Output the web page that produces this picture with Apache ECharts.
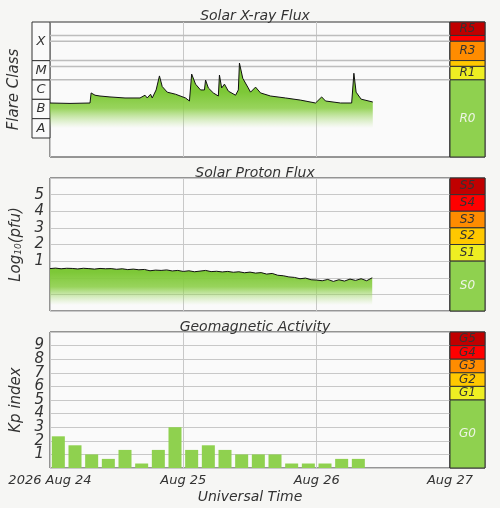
<!DOCTYPE html>
<html><head><meta charset="utf-8">
<script src="https://cdn.jsdelivr.net/npm/echarts@6/dist/echarts.min.js"></script>
<style>html,body{margin:0;padding:0;background:#f6f6f4}#c{width:500px;height:508px}</style>
</head><body><div id="c"></div>
<script>
// hours since 2026-08-24 00:00 UT
const xrayHours = [0,3.6,7.2,7.4,8.1,9.0,10.8,13.5,16.2,17.1,17.5,18.1,18.4,19.1,19.7,20.2,21.1,22.6,24.4,25.1,25.5,26.2,27.1,27.8,28.0,28.5,29.4,30.3,30.5,30.9,31.4,32.1,33.4,33.9,34.1,34.7,35.6,36.1,37.0,37.9,39.7,42.4,45.1,47.8,48.9,49.6,52.3,54.3,54.7,55.1,56.0,58.1];
const xrayFlux = [6.3e-7,6e-7,6.3e-7,2.1e-6,1.6e-6,1.45e-6,1.3e-6,1.15e-6,1.15e-6,1.6e-6,1.15e-6,1.8e-6,1.15e-6,3e-6,1.6e-5,4.5e-6,2.3e-6,1.8e-6,1.15e-6,8e-7,2e-5,6e-6,3e-6,3e-6,9.8e-6,3.8e-6,2.1e-6,1.45e-6,1.78e-5,3.8e-6,6e-6,2.6e-6,1.6e-6,3e-6,7.4e-5,1.2e-5,4.2e-6,2.3e-6,4.2e-6,2.1e-6,1.45e-6,1.15e-6,8.9e-7,6.3e-7,1.3e-6,8e-7,6.3e-7,6.3e-7,2.2e-5,2.3e-6,1e-6,7.1e-7];
const protonHours = [0,1,2,3,4,5,6,7,8,9,10,11,12,13,14,15,16,17,18,19,20,21,22,23,24,25,26,27,28,29,30,31,32,33,34,35,36,37,38,39,40,41,42,43,44,45,46,47,48,49,50,51,52,53,54,55,56,57,58];
const protonLog = [0.55,0.58,0.54,0.57,0.56,0.53,0.57,0.55,0.52,0.56,0.54,0.55,0.51,0.54,0.49,0.52,0.48,0.5,0.42,0.46,0.44,0.47,0.41,0.44,0.38,0.42,0.36,0.4,0.44,0.37,0.39,0.35,0.38,0.33,0.36,0.3,0.34,0.28,0.31,0.22,0.26,0.15,0.12,0.05,0.02,-0.06,-0.02,-0.12,-0.14,-0.18,-0.1,-0.22,-0.12,-0.2,-0.08,-0.16,-0.06,-0.18,0.0];
const kpHours = [1.5,4.5,7.5,10.5,13.5,16.5,19.5,22.5,25.5,28.5,31.5,34.5,37.5,40.5,43.5,46.5,49.5,52.5,55.5];
const kpValues = [2.33,1.67,1.0,0.67,1.33,0.33,1.33,3.0,1.33,1.67,1.33,1.0,1.0,1.0,0.33,0.33,0.33,0.67,0.67];
const dayLabels = {0:'2026 Aug 24',24:'Aug 25',48:'Aug 26',72:'Aug 27'};
const xrayThresholds = [2e-3,1e-3,1e-4,5e-5,1e-5];
const rScale = [['R5',2e-3,1e-2,'#c00000'],['',1e-3,2e-3,'#ff0000'],['R3',1e-4,1e-3,'#ff8c00'],['',5e-5,1e-4,'#ffc800'],['R1',1e-5,5e-5,'#eeee22'],['R0',1e-9,1e-5,'#8fd14f']];
const flareClasses = [['X',1e-4,1e-2],['M',1e-5,1e-4],['C',1e-6,1e-5],['B',1e-7,1e-6],['A',1e-8,1e-7]];
const sScale = [['S5',5,6,'#c00000'],['S4',4,5,'#ff0000'],['S3',3,4,'#ff8c00'],['S2',2,3,'#ffc800'],['S1',1,2,'#eeee22'],['S0',-2,1,'#8fd14f']];
const gScale = [['G5',9,10,'#c00000'],['G4',8,9,'#ff0000'],['G3',7,8,'#ff8c00'],['G2',6,7,'#ffc800'],['G1',5,6,'#eeee22'],['G0',0,5,'#8fd14f']];

const txt = '#333';
const F = 'DejaVu Sans';
const gridBase = {show:true, borderColor:'#333', borderWidth:1, backgroundColor:'#fafafa', outerBoundsMode:'none', containLabel:false};
const G = (o,b)=>Object.assign(o,b||gridBase);
const grids = [
  G({left:50,top:22,width:400,height:135}),
  G({left:450,top:22,width:35,height:135}),
  G({left:32,top:22,width:18,height:116},{show:false,outerBoundsMode:'none',containLabel:false}),
  G({left:50,top:178,width:400,height:133}),
  G({left:450,top:178,width:35,height:133}),
  G({left:50,top:332,width:400,height:136}),
  G({left:450,top:332,width:35,height:136})
];
function timeAxis(gi, showLabels){
  return {type:'value', gridIndex:gi, min:0, max:72, interval:24,
    axisLine:{show:false}, axisTick:{show:false},
    splitLine:{show:true,lineStyle:{color:'#c8c8c8',width:1}},
    axisLabel:{show:showLabels, formatter:v=>dayLabels[v]||'', fontFamily:F, fontStyle:'italic', fontSize:13, color:txt, margin:6, showMinLabel:true, showMaxLabel:true},
    name: showLabels?'Universal Time':'', nameLocation:'middle', nameGap:22,
    nameTextStyle:{fontFamily:F, fontStyle:'italic', fontSize:14, color:txt}};
}
function dummyX(gi){return {type:'value',gridIndex:gi,min:0,max:1,show:false};}
const xAxes = [timeAxis(0,false), dummyX(1), dummyX(2), timeAxis(3,false), dummyX(4), timeAxis(5,true), dummyX(6)];
const nameStyle = {fontFamily:F, fontStyle:'italic', fontSize:15, color:txt};
const yAxes = [
  {type:'log',logBase:10,gridIndex:0,min:1e-9,max:1e-2,axisLabel:{show:false},axisLine:{show:false},axisTick:{show:false},splitLine:{show:false},
   name:'Flare Class',nameLocation:'middle',nameGap:28,nameTextStyle:nameStyle},
  {type:'log',logBase:10,gridIndex:1,min:1e-9,max:1e-2,show:false},
  {type:'log',logBase:10,gridIndex:2,min:1e-8,max:1e-2,show:false},
  {type:'value',gridIndex:3,min:-2,max:6,interval:1,axisLine:{show:false},axisTick:{show:false},
   splitLine:{show:true,lineStyle:{color:'#c8c8c8'}},
   axisLabel:{formatter:v=>(v>=1&&v<=5)?String(v):'',fontFamily:F,fontStyle:'italic',fontSize:15,color:txt,margin:6},
   name:'Log{s|10}(pfu)',nameLocation:'middle',nameGap:22,
   nameTextStyle:Object.assign({rich:{s:{fontFamily:F,fontStyle:'italic',fontSize:9,color:txt,verticalAlign:'bottom',padding:[6,0,0,0]}}},nameStyle)},
  {type:'value',gridIndex:4,min:-2,max:6,show:false},
  {type:'value',gridIndex:5,min:0,max:10,interval:1,axisLine:{show:false},axisTick:{show:false},
   splitLine:{show:true,lineStyle:{color:'#c8c8c8'}},
   axisLabel:{formatter:v=>(v>=1&&v<=9)?String(v):'',fontFamily:F,fontStyle:'italic',fontSize:15,color:txt,margin:6},
   name:'Kp index',nameLocation:'middle',nameGap:22,nameTextStyle:nameStyle},
  {type:'value',gridIndex:6,min:0,max:10,show:false}
];
function scaleSeries(gi, scale, log){
  return {type:'line', xAxisIndex:gi, yAxisIndex:gi, data:[[0.5, log?1e-9:scale[scale.length-1][1]]], symbol:'none', lineStyle:{opacity:0}, silent:true,
    markArea:{silent:true, data: scale.map(s=>[
      {yAxis:s[1], xAxis:0, name:s[0], itemStyle:{color:s[3], borderColor:'#333', borderWidth:1, opacity:1},
       label:{show:true, position:'inside', fontFamily:F, fontStyle:'italic', fontSize:12, color: s[0].endsWith('0')?'#eef5e6':txt}},
      {yAxis:s[2], xAxis:1}])}};
}
const areaGrad = (y0,y1)=>({type:'linear',x:0,y:y0,x2:0,y2:y1,global:true,colorStops:[
  {offset:0,color:'rgba(125,200,55,1)'},{offset:0.45,color:'rgba(135,205,65,0.85)'},{offset:1,color:'rgba(170,220,120,0)'}]});
const thresholdSeries = xrayThresholds.map(v=>({type:'line', xAxisIndex:0, yAxisIndex:0, data:[[0,v],[72,v]], symbol:'none', silent:true, z:1,
  lineStyle:{color:'#bdbdbd', width:1.5}}));
const series = [
  ...thresholdSeries,
  {type:'line', xAxisIndex:0, yAxisIndex:0, data:xrayHours.map((h,i)=>[h,xrayFlux[i]]), symbol:'none', z:3,
   lineStyle:{color:'#111',width:1}, areaStyle:{origin:'start', opacity:1, color:areaGrad(92,128)}},
  scaleSeries(1, rScale, true),
  {type:'line', xAxisIndex:2, yAxisIndex:2, data:[[0.5,1e-8]], symbol:'none', lineStyle:{opacity:0}, silent:true,
   markArea:{silent:true, data: flareClasses.map(c=>[
     {yAxis:c[1], xAxis:0, name:c[0], itemStyle:{color:'#fafafa', borderColor:'#333', borderWidth:1, opacity:1},
      label:{show:true, position:'inside', fontFamily:F, fontStyle:'italic', fontSize:13, color:txt}},
     {yAxis:c[2], xAxis:1}])}},
  {type:'line', xAxisIndex:3, yAxisIndex:3, data:protonHours.map((h,i)=>[h,protonLog[i]]), symbol:'none',
   lineStyle:{color:'#111',width:1}, areaStyle:{origin:'start', opacity:1, color:areaGrad(272,305)}},
  scaleSeries(4, sScale, false),
  {type:'bar', xAxisIndex:5, yAxisIndex:5, data:kpHours.map((h,i)=>[h,kpValues[i]]), barWidth:13,
   itemStyle:{color:'#8fd14f'}},
  scaleSeries(6, gScale, false)
];
const tStyle = {fontFamily:F, fontStyle:'italic', fontSize:14, fontWeight:'normal', color:txt};
const chart = echarts.init(document.getElementById('c'), null, {renderer:'canvas'});
chart.setOption({
  backgroundColor:'#f6f6f4', animation:false,
  title:[
    {text:'Solar X-ray Flux', left:250, textAlign:'center', top:4, textStyle:tStyle},
    {text:'Solar Proton Flux', left:250, textAlign:'center', top:161, textStyle:tStyle},
    {text:'Geomagnetic Activity', left:250, textAlign:'center', top:315, textStyle:tStyle}
  ],
  grid:grids, xAxis:xAxes, yAxis:yAxes, series:series
});
</script></body></html>
